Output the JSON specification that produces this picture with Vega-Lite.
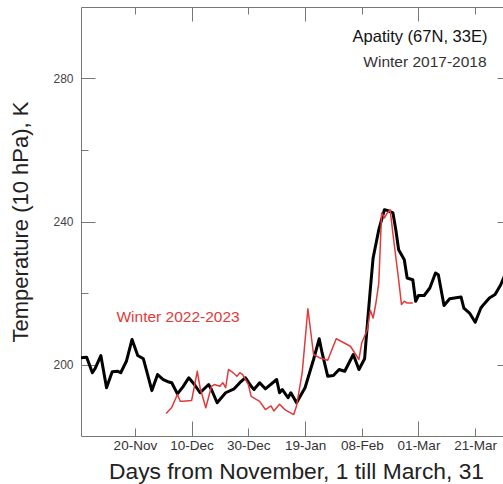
{
  "$schema": "https://vega.github.io/schema/vega-lite/v6.json",
  "width": 422,
  "height": 429,
  "autosize": {"type": "none"},
  "padding": {"left": 81, "top": 7, "right": 0, "bottom": 48},
  "background": "white",
  "config": {"view": {"stroke": null}, "font": "Liberation Sans", "axis": {"grid": false}},
  "datasets": {
    "w1718": [
      {"day": 1, "temp": 201.9}, {"day": 3, "temp": 202.0}, {"day": 5, "temp": 197.7}, {"day": 6, "temp": 198.9},
      {"day": 8, "temp": 202.5}, {"day": 10, "temp": 193.5}, {"day": 12, "temp": 198.0}, {"day": 14, "temp": 198.1},
      {"day": 15, "temp": 197.7}, {"day": 17, "temp": 200.9}, {"day": 19, "temp": 207.0}, {"day": 21, "temp": 202.5},
      {"day": 23, "temp": 201.6}, {"day": 26, "temp": 192.7}, {"day": 28, "temp": 197.2}, {"day": 30, "temp": 195.8},
      {"day": 32, "temp": 195.1}, {"day": 33, "temp": 194.9}, {"day": 35, "temp": 191.8}, {"day": 37, "temp": 193.8},
      {"day": 39, "temp": 196.3}, {"day": 41, "temp": 194.4}, {"day": 43, "temp": 192.1}, {"day": 46, "temp": 194.4},
      {"day": 47, "temp": 193.0}, {"day": 49, "temp": 189.3}, {"day": 52, "temp": 192.1}, {"day": 55, "temp": 193.2},
      {"day": 57, "temp": 194.9}, {"day": 59, "temp": 196.3}, {"day": 61, "temp": 193.9}, {"day": 62, "temp": 193.0},
      {"day": 64, "temp": 194.9}, {"day": 66, "temp": 193.2}, {"day": 70, "temp": 195.8}, {"day": 71, "temp": 192.1},
      {"day": 72, "temp": 193.0}, {"day": 74, "temp": 190.7}, {"day": 75, "temp": 192.1}, {"day": 77, "temp": 189.3},
      {"day": 79, "temp": 192.1}, {"day": 80, "temp": 193.5}, {"day": 83, "temp": 201.4}, {"day": 85, "temp": 207.2},
      {"day": 86, "temp": 203.3}, {"day": 88, "temp": 196.7}, {"day": 90, "temp": 196.9}, {"day": 92, "temp": 198.6},
      {"day": 94, "temp": 198.1}, {"day": 97, "temp": 202.8}, {"day": 99, "temp": 198.6}, {"day": 101, "temp": 201.6},
      {"day": 102, "temp": 211.6}, {"day": 103, "temp": 220.9}, {"day": 104, "temp": 229.8}, {"day": 106, "temp": 237.7},
      {"day": 108, "temp": 243.3}, {"day": 109, "temp": 243.1}, {"day": 111, "temp": 242.4}, {"day": 112, "temp": 237.7},
      {"day": 113, "temp": 232.1}, {"day": 115, "temp": 229.3}, {"day": 116, "temp": 224.2}, {"day": 118, "temp": 223.7},
      {"day": 119, "temp": 217.7}, {"day": 120, "temp": 219.3}, {"day": 122, "temp": 219.3}, {"day": 124, "temp": 221.4},
      {"day": 126, "temp": 225.6}, {"day": 127, "temp": 225.1}, {"day": 129, "temp": 216.5}, {"day": 131, "temp": 218.4},
      {"day": 135, "temp": 218.9}, {"day": 136, "temp": 215.8}, {"day": 138, "temp": 214.4}, {"day": 140, "temp": 211.8},
      {"day": 142, "temp": 215.8}, {"day": 143, "temp": 216.8}, {"day": 145, "temp": 218.6}, {"day": 147, "temp": 219.6},
      {"day": 149, "temp": 222.3}, {"day": 150, "temp": 224.2}, {"day": 151, "temp": 226.0}
    ],
    "w2223": [
      {"day": 31, "temp": 186.3}, {"day": 33, "temp": 188.0}, {"day": 35, "temp": 191.6}, {"day": 36, "temp": 189.7},
      {"day": 37, "temp": 189.7}, {"day": 40, "temp": 189.9}, {"day": 42, "temp": 198.1}, {"day": 43, "temp": 193.5},
      {"day": 44, "temp": 190.7}, {"day": 45, "temp": 187.9}, {"day": 47, "temp": 193.9}, {"day": 48, "temp": 194.4},
      {"day": 50, "temp": 193.9}, {"day": 51, "temp": 194.9}, {"day": 52, "temp": 193.5}, {"day": 53, "temp": 198.6},
      {"day": 54, "temp": 198.1}, {"day": 56, "temp": 196.7}, {"day": 57, "temp": 197.7}, {"day": 58, "temp": 197.2},
      {"day": 60, "temp": 194.4}, {"day": 61, "temp": 191.1}, {"day": 64, "temp": 189.7}, {"day": 66, "temp": 187.4},
      {"day": 68, "temp": 188.4}, {"day": 69, "temp": 187.0}, {"day": 71, "temp": 188.9}, {"day": 73, "temp": 187.3},
      {"day": 76, "temp": 186.0}, {"day": 77, "temp": 188.4}, {"day": 79, "temp": 197.7}, {"day": 81, "temp": 215.6},
      {"day": 83, "temp": 202.8}, {"day": 85, "temp": 201.9}, {"day": 88, "temp": 201.2}, {"day": 91, "temp": 207.2},
      {"day": 96, "temp": 205.1}, {"day": 99, "temp": 201.4}, {"day": 100, "temp": 206.1}, {"day": 102, "temp": 209.8},
      {"day": 103, "temp": 215.2}, {"day": 104, "temp": 213.0}, {"day": 105, "temp": 217.2}, {"day": 106, "temp": 222.8},
      {"day": 107, "temp": 242.4}, {"day": 108, "temp": 241.0}, {"day": 109, "temp": 242.4}, {"day": 110, "temp": 243.3},
      {"day": 111, "temp": 236.5}, {"day": 113, "temp": 223.7}, {"day": 114, "temp": 216.8}, {"day": 115, "temp": 217.7},
      {"day": 116, "temp": 217.2}, {"day": 118, "temp": 217.2}
    ]
  },
  "layer": [
    {
      "data": {"name": "w1718"},
      "mark": {"type": "line", "color": "#000000", "strokeWidth": 3, "clip": true, "strokeJoin": "round"},
      "encoding": {
        "x": {
          "field": "day", "type": "quantitative",
          "scale": {"domain": [1, 149.8], "nice": false, "zero": false},
          "axis": {
            "orient": "bottom", "values": [20, 40, 60, 80, 100, 120, 140],
            "labelExpr": "datum.value == 20 ? '20-Nov' : datum.value == 40 ? '10-Dec' : datum.value == 60 ? '30-Dec' : datum.value == 80 ? '19-Jan' : datum.value == 100 ? '08-Feb' : datum.value == 120 ? '01-Mar' : '21-Mar'",
            "tickSize": {"expr": "datum.value % 40 === 0 ? -15 : -8"},
            "labelPadding": {"expr": "datum.value % 40 === 0 ? 17 : 10"},
            "labelFontSize": 13.5, "labelColor": "#333333",
            "domainColor": "#777777", "tickColor": "#777777", "labelFlush": false,
            "title": "Days from November, 1 till March, 31", "titleFontSize": 22.8, "titleFontWeight": "normal",
            "titleColor": "#222222", "titlePadding": 9, "titleX": 215
          }
        },
        "y": {
          "field": "temp", "type": "quantitative",
          "scale": {"domain": [180, 300], "nice": false, "zero": false},
          "axis": {
            "orient": "left", "values": [200, 220, 240, 260, 280],
            "labelExpr": "datum.value % 40 === 0 ? datum.label : ''",
            "tickSize": {"expr": "datum.value % 40 === 0 ? -14 : -7"},
            "labelPadding": {"expr": "datum.value % 40 === 0 ? 22 : 15"},
            "labelFontSize": 12, "labelColor": "#444444",
            "domainColor": "#777777", "tickColor": "#777777",
            "title": "Temperature (10 hPa), K", "titleFontSize": 22, "titleFontWeight": "normal",
            "titleColor": "#222222", "titlePadding": 20
          }
        }
      }
    },
    {
      "data": {"name": "w2223"},
      "mark": {"type": "line", "color": "#e03a3a", "strokeWidth": 1.5, "clip": true, "strokeJoin": "round"},
      "encoding": {
        "x": {
          "field": "day", "type": "quantitative",
          "scale": {"domain": [1, 149.8], "nice": false, "zero": false},
          "axis": {
            "orient": "top", "values": [20, 40, 60, 80, 100, 120, 140], "labels": false, "title": null,
            "tickSize": {"expr": "datum.value % 40 === 0 ? -14 : -7"}, "domainColor": "#777777", "tickColor": "#777777"
          }
        },
        "y": {
          "field": "temp", "type": "quantitative",
          "scale": {"domain": [180, 300], "nice": false, "zero": false},
          "axis": {
            "orient": "right", "values": [200, 240, 280], "labels": false, "title": null, "domain": false,
            "tickSize": -6, "tickColor": "#777777"
          }
        }
      }
    },
    {
      "data": {"values": [{"label": "Apatity (67N, 33E)", "day": 144.3, "temp": 291.7}]},
      "mark": {"type": "text", "align": "right", "baseline": "middle", "fontSize": 16.5, "color": "#111111"},
      "encoding": {
        "x": {"field": "day", "type": "quantitative", "scale": {"domain": [1, 149.8], "nice": false, "zero": false}, "axis": null},
        "y": {"field": "temp", "type": "quantitative", "scale": {"domain": [180, 300], "nice": false, "zero": false}, "axis": null},
        "text": {"field": "label"}
      }
    },
    {
      "data": {"values": [{"label": "Winter 2017-2018", "day": 144.0, "temp": 284.5}]},
      "mark": {"type": "text", "align": "right", "baseline": "middle", "fontSize": 15.5, "color": "#333333"},
      "encoding": {
        "x": {"field": "day", "type": "quantitative", "scale": {"domain": [1, 149.8], "nice": false, "zero": false}, "axis": null},
        "y": {"field": "temp", "type": "quantitative", "scale": {"domain": [180, 300], "nice": false, "zero": false}, "axis": null},
        "text": {"field": "label"}
      }
    },
    {
      "data": {"values": [{"label": "Winter 2022-2023", "day": 13.5, "temp": 213.4}]},
      "mark": {"type": "text", "align": "left", "baseline": "middle", "fontSize": 15.5, "color": "#e03a3a"},
      "encoding": {
        "x": {"field": "day", "type": "quantitative", "scale": {"domain": [1, 149.8], "nice": false, "zero": false}, "axis": null},
        "y": {"field": "temp", "type": "quantitative", "scale": {"domain": [180, 300], "nice": false, "zero": false}, "axis": null},
        "text": {"field": "label"}
      }
    }
  ]
}
